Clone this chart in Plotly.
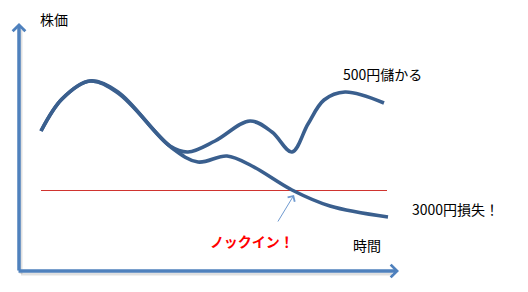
import plotly.graph_objects as go

# Stylised stock-price paths (time units on x, price units on y; larger y = lower on screen)
time_up = [41, 62, 90, 118, 170, 188, 215, 250, 272, 292, 308, 324, 345, 384]
price_up = [131, 99, 81, 92, 146, 152, 141, 121, 132, 152, 124, 100, 92, 103]

time_down = [41, 62, 90, 118, 172, 198, 227, 252, 292, 330, 388]
price_down = [131, 99, 81, 93, 148, 162, 156, 166, 190, 206, 217]

barrier_time = [41, 387]
barrier_price = [190.5, 190.5]

labels = {
    "y": "株価",
    "x": "時間",
    "gain": "500円儲かる",
    "loss": "3000円損失！",
    "knock": "ノックイン！",
}

FONT = "Noto Sans CJK JP"
CURVE = "#3A5F8E"
AXIS = "#4F81BD"

fig = go.Figure()

fig.add_trace(go.Scatter(x=barrier_time, y=barrier_price, mode="lines",
                         line=dict(color="#D0342F", width=1), hoverinfo="skip"))
for t, p in ((time_up, price_up), (time_down, price_down)):
    fig.add_trace(go.Scatter(x=t, y=p, mode="lines",
                             line=dict(color=CURVE, width=3.6, shape="spline", smoothing=1.0),
                             hoverinfo="skip"))

# axis shadows
fig.add_shape(type="line", x0=21, y0=30, x1=21, y1=274, line=dict(color="rgba(0,0,0,0.12)", width=3))
fig.add_shape(type="line", x0=21, y0=274, x1=392, y1=274, line=dict(color="rgba(0,0,0,0.12)", width=3))

# axes arrows
fig.add_annotation(x=19, y=23, ax=19, ay=272, xref="x", yref="y", axref="x", ayref="y",
                   text="", showarrow=True, arrowhead=4, arrowsize=0.7, arrowwidth=3.5, arrowcolor=AXIS)
fig.add_annotation(x=399, y=271, ax=17, ay=271, xref="x", yref="y", axref="x", ayref="y",
                   text="", showarrow=True, arrowhead=4, arrowsize=0.7, arrowwidth=3.5, arrowcolor=AXIS)

# knock-in pointer
fig.add_annotation(x=294, y=195, ax=277, ay=223, xref="x", yref="y", axref="x", ayref="y",
                   text="", showarrow=True, arrowhead=4, arrowsize=1.6, arrowwidth=1, arrowcolor="#6F9AD0")

def label(txt, x, y, color="black", bold=False, size=14):
    fig.add_annotation(x=x, y=y, xref="x", yref="y", text=f"<b>{txt}</b>" if bold else txt,
                       showarrow=False, font=dict(family=FONT, size=size, color=color),
                       xanchor="center", yanchor="middle")

label(labels["y"], 54, 19)
label(labels["x"], 367, 245)
label(labels["gain"], 382, 74)
label(labels["loss"], 455, 209)
label(labels["knock"], 252, 241, color="#FF0000", bold=True)

fig.update_layout(width=528, height=292, margin=dict(l=0, r=0, t=0, b=0),
                  paper_bgcolor="white", plot_bgcolor="white", showlegend=False,
                  xaxis=dict(range=[0, 528], visible=False, fixedrange=True),
                  yaxis=dict(range=[292, 0], visible=False, fixedrange=True))

fig.write_html("out.html")
